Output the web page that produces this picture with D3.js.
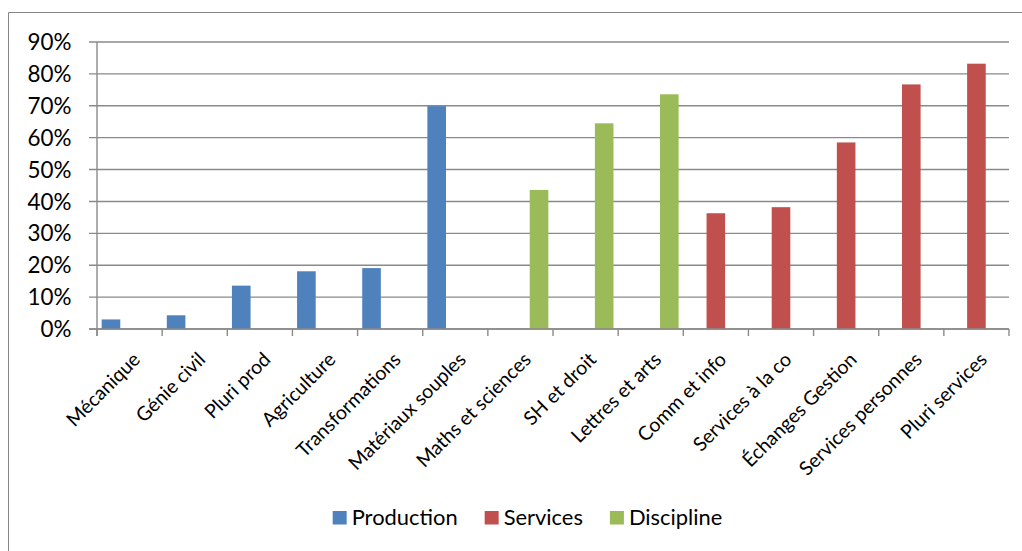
<!DOCTYPE html>
<html><head><meta charset="utf-8">
<script src="https://cdn.jsdelivr.net/npm/d3@7/dist/d3.min.js"></script>
<style>body{margin:0;background:#fff;}svg{display:block;}</style>
</head><body>
<svg id="c" width="1022" height="551"></svg>
<script>
const categories = ["Mécanique","Génie civil","Pluri prod","Agriculture","Transformations","Matériaux souples","Maths et sciences","SH et droit","Lettres et arts","Comm et info","Services à la co","Échanges Gestion","Services personnes","Pluri services"];
const seriesNames = ["Production","Services","Discipline"];
const production = [0.030,0.043,0.136,0.181,0.191,0.699,null,null,null,null,null,null,null,null];
const services   = [null,null,null,null,null,null,null,null,null,0.363,0.382,0.585,0.767,0.832];
const discipline = [null,null,null,null,null,null,0.436,0.645,0.736,null,null,null,null,null];
const yTicks = [0,0.1,0.2,0.3,0.4,0.5,0.6,0.7,0.8,0.9];
const colors = ["#4F81BD","#C0504D","#9BBB59"];

const FONT = "Lato, 'Open Sans', sans-serif";
const svg = d3.select("#c");

function fitSize(str, target){
  const t = svg.append("text").attr("font-family",FONT).attr("font-size",100).text(str);
  const w = t.node().getComputedTextLength(); t.remove();
  return 100*target/w;
}
const tickFS = fitSize("90%", 44);
const catFS = fitSize("Transformations", 138);
const legFS = fitSize("Production", 106);

const x0 = 97, x1 = 1009, yBottom = 329, yTop = 42;
const x = d3.scaleBand().domain(categories).range([x0,x1]).paddingInner(0).paddingOuter(0);
const y = d3.scaleLinear().domain([0,0.9]).range([yBottom,yTop]);
const sub = d3.scaleBand().domain(seriesNames).range([0,x.bandwidth()]).paddingInner(0).paddingOuter(0.25);

// outer frame
svg.append("path").attr("d","M8.5,551V12.5H1022").attr("fill","none").attr("stroke","#868686").attr("stroke-width",1);

// gridlines
const grid = svg.append("g");
grid.selectAll("line").data(yTicks).join("line")
  .attr("x1",89).attr("x2",x1).attr("y1",d=>y(d)).attr("y2",d=>y(d))
  .attr("stroke","#8a8a8a").attr("stroke-width",1.4);

// y labels
svg.append("g").selectAll("text").data(yTicks).join("text")
  .attr("x",71.5).attr("y",d=>y(d)).attr("dy","0.36em")
  .attr("text-anchor","end").attr("font-family",FONT).attr("font-size",tickFS).attr("fill","#000")
  .text(d=>d3.format(".0%")(d));

// bars
const allSeries = [production, services, discipline];
allSeries.forEach((vals,si)=>{
  svg.append("g").selectAll("rect").data(categories.map((c,i)=>({c,v:vals[i]})).filter(d=>d.v!=null))
    .join("rect")
    .attr("x",d=>x(d.c)+sub(seriesNames[si]))
    .attr("width",sub.bandwidth())
    .attr("y",d=>y(d.v))
    .attr("height",d=>y(0)-y(d.v))
    .attr("fill",colors[si]);
});

// y axis line
svg.append("line").attr("x1",x0).attr("x2",x0).attr("y1",yTop).attr("y2",yBottom+7).attr("stroke","#8a8a8a").attr("stroke-width",1.4);
// x axis line + ticks
svg.append("line").attr("x1",89).attr("x2",x1).attr("y1",yBottom).attr("y2",yBottom).attr("stroke","#8a8a8a").attr("stroke-width",1.4);
const tickPos = categories.map(c=>x(c)).concat([x1]);
svg.append("g").selectAll("line").data(tickPos).join("line")
  .attr("x1",d=>d).attr("x2",d=>d).attr("y1",yBottom).attr("y2",yBottom+7)
  .attr("stroke","#8a8a8a").attr("stroke-width",1.4);

// category labels
svg.append("g").selectAll("text").data(categories).join("text")
  .attr("transform",d=>`translate(${x(d)+x.bandwidth()/2+7},356) rotate(-45)`)
  .attr("dy","0.35em").attr("text-anchor","end")
  .attr("font-family",FONT).attr("font-size",catFS).attr("fill","#000")
  .text(d=>d);

// legend
const leg = svg.append("g");
let widths = seriesNames.map(s=>{
  const t = svg.append("text").attr("font-family",FONT).attr("font-size",legFS).text(s);
  const w = t.node().getComputedTextLength(); t.remove(); return w;});
const sq = 14, gapT = 5, gapItem = 27;
const total = widths.reduce((a,w)=>a+sq+gapT+w,0) + gapItem*(seriesNames.length-1);
let lx = 527.5 - total/2;
seriesNames.forEach((s,i)=>{
  leg.append("rect").attr("x",lx).attr("y",511).attr("width",sq).attr("height",13.5).attr("fill",colors[i]);
  leg.append("text").attr("x",lx+sq+gapT).attr("y",517.5).attr("dy","0.36em")
    .attr("font-family",FONT).attr("font-size",legFS).attr("fill","#000").text(s);
  lx += sq+gapT+widths[i]+gapItem;
});
</script>
</body></html>
